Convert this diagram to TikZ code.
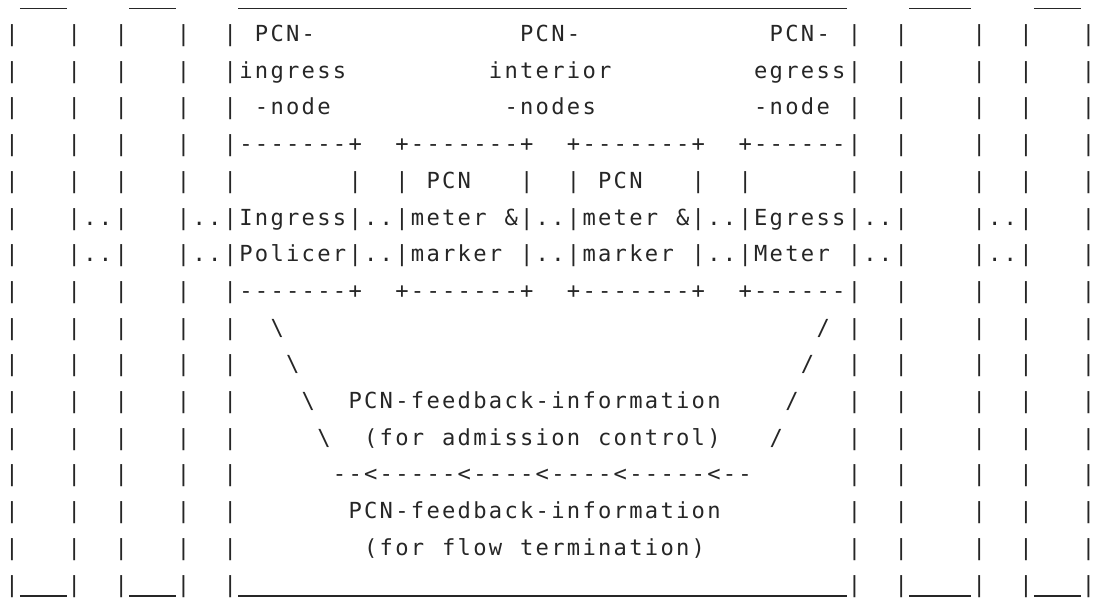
\documentclass[tikz,border=0pt]{standalone}
\usepackage{fontspec}
\newfontfamily\dvm{DejaVu Sans Mono}
\definecolor{textcol}{RGB}{38,38,38}
\newlength\cw
\setlength\cw{11.7pt}% one character cell = 15.6px
\def\rowproc#1{\ifx#1\relax\else\makebox[\cw][c]{#1}\expandafter\rowproc\fi}
\newcommand\bs{\textbackslash}
% one run of characters (no spaces), starting at column #3 of row #2
\newcommand\seg[4]{\node[ch] (#1) at ({4.2+#3*15.6},{41.5+(#2-2)*36.7}) {\rowproc#4\relax};}
% a run of #4 underscores, starting at column #3 of row #2
\newcommand\useg[4]{\node[ch] (#1) at ({4.2+#3*15.6},{41.5+(#2-2)*36.7}) {\textcolor{textcol}{\rule[-3.4pt]{#4\cw}{1pt}}};}
\tikzset{ch/.style={inner sep=0pt, outer sep=0pt, anchor=base west, text=textcol,
  font=\dvm\fontsize{16.6pt}{20pt}\selectfont}}
\begin{document}
\begin{tikzpicture}[x=0.75pt,y=-0.75pt]
\useasboundingbox (0,0) rectangle (1095,601);
% top underscores
\useg{t1}{1}{1}{3}
\useg{t2}{1}{8}{3}
\useg{t3}{1}{15}{39}
\useg{t4}{1}{58}{4}
\useg{t5}{1}{66}{3}
% vertical bars of the five boxes
\foreach \r in {2,...,17}{
  \foreach \c in {0,4,7,11,14,54,57,62,65,69}{
    \seg{b\r-\c}{\r}{\c}{|}
  }
}
% bottom underscores
\useg{u1}{17}{1}{3}
\useg{u2}{17}{8}{3}
\useg{u3}{17}{15}{39}
\useg{u4}{17}{58}{4}
\useg{u5}{17}{66}{3}
% header
\seg{h1}{2}{16}{PCN-}
\seg{h2}{2}{33}{PCN-}
\seg{h3}{2}{49}{PCN-}
\seg{h4}{3}{15}{ingress}
\seg{h5}{3}{31}{interior}
\seg{h6}{3}{48}{egress}
\seg{h7}{4}{16}{-node}
\seg{h8}{4}{32}{-nodes}
\seg{h9}{4}{48}{-node}
% boxes top edges
\seg{e1}{5}{15}{-------+}
\seg{e2}{5}{25}{+-------+}
\seg{e3}{5}{36}{+-------+}
\seg{e4}{5}{47}{+------}
% row 6
\seg{s1}{6}{22}{|}
\seg{s2}{6}{25}{|}
\seg{s3}{6}{27}{PCN}
\seg{s4}{6}{33}{|}
\seg{s5}{6}{36}{|}
\seg{s6}{6}{38}{PCN}
\seg{s7}{6}{44}{|}
\seg{s8}{6}{47}{|}
% row 7
\seg{d1}{7}{5}{..}
\seg{d2}{7}{12}{..}
\seg{d3}{7}{55}{..}
\seg{d4}{7}{63}{..}
\seg{i1}{7}{15}{Ingress|..|meter}
\seg{i2}{7}{32}{\&|..|meter}
\seg{i3}{7}{43}{\&|..|Egress}
% row 8
\seg{d5}{8}{5}{..}
\seg{d6}{8}{12}{..}
\seg{d7}{8}{55}{..}
\seg{d8}{8}{63}{..}
\seg{p1}{8}{15}{Policer|..|marker}
\seg{p2}{8}{33}{|..|marker}
\seg{p3}{8}{44}{|..|Meter}
% boxes bottom edges
\seg{f1}{9}{15}{-------+}
\seg{f2}{9}{25}{+-------+}
\seg{f3}{9}{36}{+-------+}
\seg{f4}{9}{47}{+------}
% feedback paths
\seg{l1}{10}{17}{\bs}
\seg{r1}{10}{52}{/}
\seg{l2}{11}{18}{\bs}
\seg{r2}{11}{51}{/}
\seg{l3}{12}{19}{\bs}
\seg{a1}{12}{22}{PCN-feedback-information}
\seg{r3}{12}{50}{/}
\seg{l4}{13}{20}{\bs}
\seg{a2}{13}{23}{(for}
\seg{a3}{13}{28}{admission}
\seg{a4}{13}{38}{control)}
\seg{r4}{13}{49}{/}
\seg{ar}{14}{21}{--<-----<----<----<-----<--}
\seg{c1}{15}{22}{PCN-feedback-information}
\seg{c2}{16}{23}{(for}
\seg{c3}{16}{28}{flow}
\seg{c4}{16}{33}{termination)}
\end{tikzpicture}
\end{document}
